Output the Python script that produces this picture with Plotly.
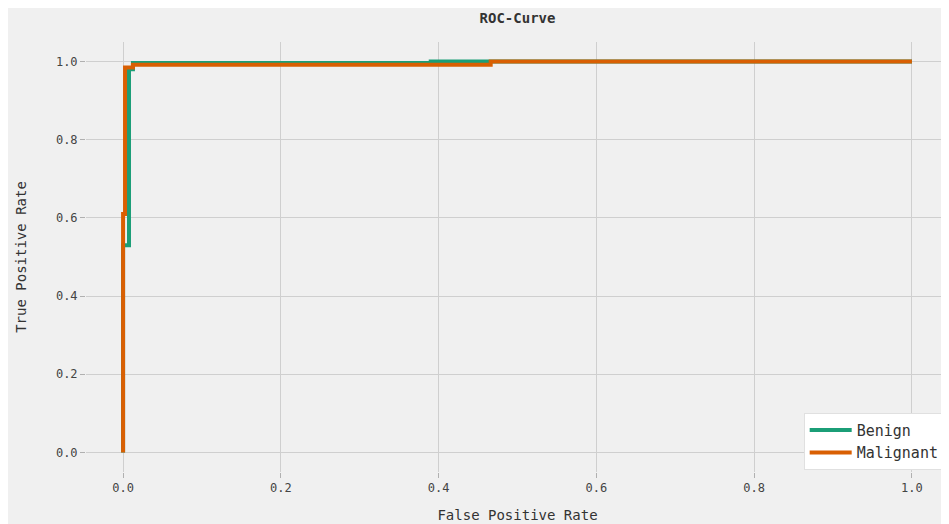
import plotly.graph_objects as go

# ROC data
benign_fpr = [0.0, 0.0, 0.0075, 0.0075, 0.0125, 0.0125, 0.39, 0.39, 1.0]
benign_tpr = [0.0, 0.53, 0.53, 0.98, 0.98, 0.996, 0.996, 1.0, 1.0]

malignant_fpr = [0.0, 0.0, 0.0025, 0.0025, 0.0125, 0.0125, 0.466, 0.466, 1.0]
malignant_tpr = [0.0, 0.61, 0.61, 0.985, 0.985, 0.992, 0.992, 1.0, 1.0]

series_names = ["Benign", "Malignant"]
colors = ["#1b9e77", "#d95f02"]

tick_vals = [0.0, 0.2, 0.4, 0.6, 0.8, 1.0]
tick_text = ["0.0", "0.2", "0.4", "0.6", "0.8", "1.0"]

FONT = "DejaVu Sans Mono"
BG = "#f0f0f0"

fig = go.Figure()
for name, xs, ys, c in zip(series_names,
                           [benign_fpr, malignant_fpr],
                           [benign_tpr, malignant_tpr], colors):
    fig.add_trace(go.Scatter(x=xs, y=ys, mode="lines", name=name,
                             line=dict(color=c, width=4)))

axis_common = dict(
    tickmode="array", tickvals=tick_vals, ticktext=tick_text,
    showgrid=True, gridcolor="#cfcfcf", gridwidth=1.4,
    zeroline=False, showline=False, automargin=False,
    ticks="outside", ticklen=5, tickwidth=1, tickcolor="#b0b0b0",
    tickfont=dict(family=FONT, size=12, color="#444444"),
)

fig.update_layout(
    width=941, height=516,
    margin=dict(l=78, r=0, t=34, b=52, autoexpand=False),
    paper_bgcolor=BG,
    plot_bgcolor=BG,
    title=dict(text="<b>ROC-Curve</b>", xref="paper", x=0.5, xanchor="center",
               yref="container", y=0.98, yanchor="middle",
               font=dict(family=FONT, size=14, color="#333333")),
    xaxis=dict(range=[-0.047, 1.047],
               title=dict(text="False Positive Rate", standoff=15,
                          font=dict(family=FONT, size=14, color="#333333")),
               **axis_common),
    yaxis=dict(range=[-0.05, 1.05],
               title=dict(text="True Positive Rate", standoff=26,
                          font=dict(family=FONT, size=14, color="#333333")),
               **axis_common),
    legend=dict(x=0.995, y=0.005, xanchor="right", yanchor="bottom",
                bgcolor="white", bordercolor="#e0e0e0", borderwidth=1,
                font=dict(family=FONT, size=15, color="#333333"),
                itemwidth=42, tracegroupgap=0),
    showlegend=True,
)

fig.write_html("out.html")
